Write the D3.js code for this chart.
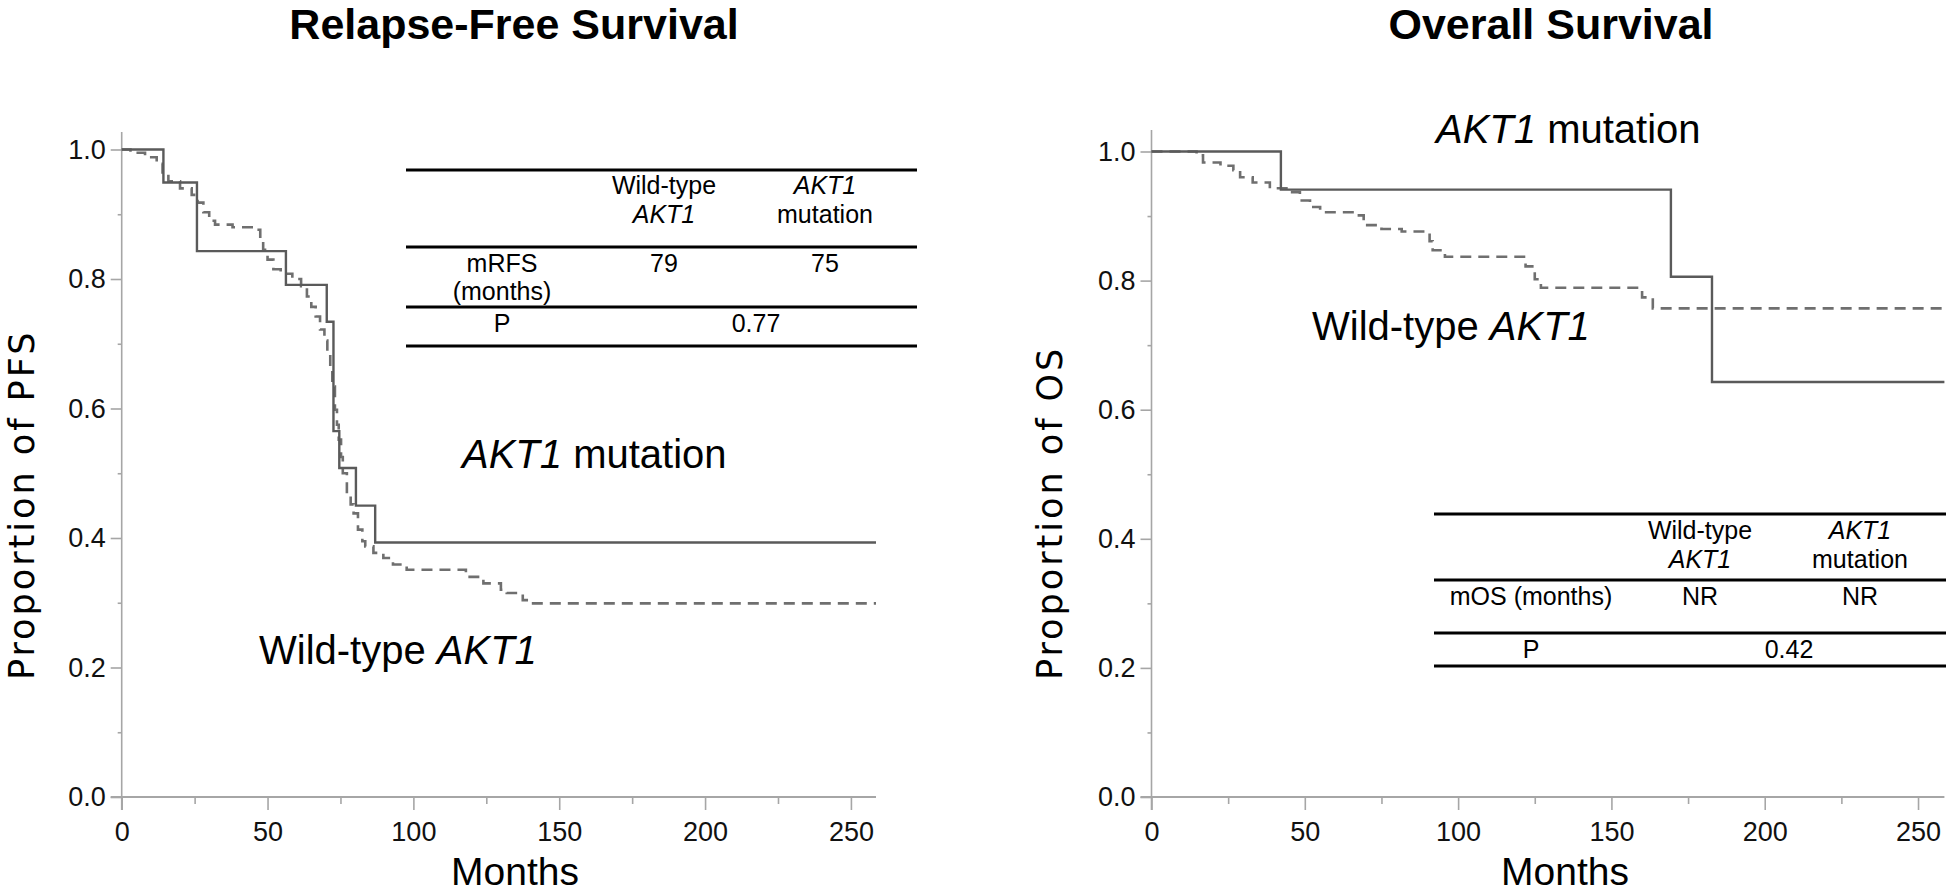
<!DOCTYPE html>
<html>
<head>
<meta charset="utf-8">
<script src="https://cdn.jsdelivr.net/npm/d3@7"></script>
<style>
  body { margin: 0; background: #fff; }
  svg { display: block; }
</style>
</head>
<body>
<svg id="chart" width="1946" height="894"></svg>
<script>
// Kaplan-Meier steps: month of each drop and survival after it
var rfsWildTime = [0, 3, 8, 12, 14, 16, 20, 24, 26, 28, 30, 32, 38, 46, 47.5, 48.5, 50, 52, 54.5, 58.5, 61.5, 63.5, 65, 66.5, 68, 69.5, 70.5, 71.5, 72.2, 73.1, 73.8, 74.4, 75.2, 75.8, 77.2, 78.5, 79.5, 81, 82.5, 83.5, 86.3, 89.7, 93, 97.7, 118, 124, 130, 132, 137.5, 140];
var rfsWildSurv = [1, 0.995, 0.988, 0.978, 0.962, 0.951, 0.94, 0.93, 0.918, 0.903, 0.89, 0.884, 0.88, 0.876, 0.861, 0.845, 0.83, 0.815, 0.808, 0.8, 0.789, 0.773, 0.757, 0.742, 0.722, 0.705, 0.686, 0.66, 0.634, 0.598, 0.575, 0.552, 0.525, 0.5, 0.469, 0.452, 0.438, 0.413, 0.395, 0.387, 0.377, 0.369, 0.359, 0.351, 0.34, 0.33, 0.32, 0.315, 0.304, 0.299];
var rfsMutTime = [0, 14.3, 25.8, 56.3, 70.3, 72.6, 74.6, 80.3, 86.9];
var rfsMutSurv = [1, 0.949, 0.843, 0.791, 0.734, 0.565, 0.508, 0.45, 0.393];

var osWildTime = [0, 14.7, 16.8, 22.5, 26.7, 28.9, 33, 38.6, 44, 48.4, 51.7, 55, 67, 69.2, 75, 81.6, 90.7, 91.7, 95.7, 122, 125, 127, 160, 163.5];
var osWildSurv = [1, 0.994, 0.983, 0.978, 0.971, 0.96, 0.952, 0.943, 0.937, 0.924, 0.914, 0.906, 0.901, 0.886, 0.88, 0.876, 0.861, 0.847, 0.837, 0.822, 0.802, 0.789, 0.774, 0.757];
var osMutTime = [0, 42.2, 169.4, 182.8];
var osMutSurv = [1, 0.941, 0.806, 0.643];

var xMax = 258.6;
var xTicks = [0, 50, 100, 150, 200, 250];
var xMinor = [25, 75, 125, 175, 225];
var yTicks = [0, 0.2, 0.4, 0.6, 0.8, 1.0];
var yMinor = [0.1, 0.3, 0.5, 0.7, 0.9];

// inset tables
var tableHead = [["Wild-type", "AKT1"], ["AKT1", "mutation"]];
var rfsMedian = ["79", "75"];
var rfsP = "0.77";
var osMedian = ["NR", "NR"];
var osP = "0.42";

var FONT = "'Liberation Sans', Arial, sans-serif";
var svg = d3.select('#chart');

// writes a string with the gene name in italics
function richText(sel, str) {
  str.split(/(AKT1)/).forEach(function(p) {
    if (!p) return;
    sel.append('tspan')
      .style('font-style', p === 'AKT1' ? 'italic' : 'normal')
      .text(p);
  });
  return sel;
}

function label(g, str, x, y, size, anchor) {
  var t = g.append('text')
    .attr('x', x).attr('y', y)
    .attr('text-anchor', anchor || 'middle')
    .style('font-family', FONT)
    .style('font-size', size + 'px')
    .attr('fill', '#000');
  return richText(t, str);
}

function drawPanel(o) {
  var x = d3.scaleLinear().domain([0, xMax]).range([o.left, o.right]),
      y = d3.scaleLinear().domain([0, 1]).range([797, o.top]),
      g = svg.append('g');

  // axes
  var xa = g.append('g').attr('transform', 'translate(0,' + y(0) + ')');
  xa.call(d3.axisBottom(x).tickValues(xTicks).tickSize(13).tickPadding(12).tickFormat(d3.format('d')));
  xa.append('g').call(d3.axisBottom(x).tickValues(xMinor).tickSize(7).tickFormat(''));
  var ya = g.append('g').attr('transform', 'translate(' + x(0) + ',0)');
  ya.call(d3.axisLeft(y).tickValues(yTicks).tickSize(11).tickPadding(5).tickFormat(d3.format('.1f')));
  ya.append('g').call(d3.axisLeft(y).tickValues(yMinor).tickSize(4).tickFormat(''));
  g.selectAll('.domain').remove();
  g.selectAll('.tick line').attr('stroke', '#a6a6a6').attr('stroke-width', 1.6);
  g.selectAll('.tick text')
    .attr('fill', '#111')
    .style('font-family', FONT)
    .style('font-size', '27px');

  g.append('line')
    .attr('x1', x(0)).attr('x2', x(0))
    .attr('y1', o.axisTop).attr('y2', y(0) + 13)
    .attr('stroke', '#a6a6a6').attr('stroke-width', 1.6);
  g.append('line')
    .attr('x1', x(0) - 11).attr('x2', o.right)
    .attr('y1', y(0)).attr('y2', y(0))
    .attr('stroke', '#a6a6a6').attr('stroke-width', 1.8);

  // survival curves
  var line = d3.line()
    .x(function(d) { return x(d[0]); })
    .y(function(d) { return y(d[1]); })
    .curve(d3.curveStepAfter);

  function pts(times, surv) {
    var p = times.map(function(t, i) { return [t, surv[i]]; });
    p.push([xMax, surv[surv.length - 1]]);
    return p;
  }

  g.append('path')
    .attr('d', line(pts(o.wild[0], o.wild[1])))
    .attr('fill', 'none')
    .attr('stroke', '#6f6f6f')
    .attr('stroke-width', 2.6)
    .attr('stroke-dasharray', '11,7');

  g.append('path')
    .attr('d', line(pts(o.mut[0], o.mut[1])))
    .attr('fill', 'none')
    .attr('stroke', '#5a5a5a')
    .attr('stroke-width', 2.4);

  // titles
  g.append('text')
    .attr('x', o.titleX).attr('y', 39)
    .attr('text-anchor', 'middle')
    .style('font-family', FONT)
    .style('font-size', '43px')
    .style('font-weight', 'bold')
    .text(o.title);

  g.append('text')
    .attr('transform', 'translate(' + o.ylabelX + ',680) rotate(-90)')
    .style('font-family', "'DejaVu Sans', sans-serif")
    .style('font-size', '35px')
    .style('letter-spacing', '3px')
    .text(o.ylabel);

  label(g, 'Months', o.monthsX, 885, 39);

  o.notes.forEach(function(n) { label(g, n.text, n.x, n.y, 40, 'start'); });

  // inset table
  var t = o.table;
  t.lines.forEach(function(ly) {
    g.append('line')
      .attr('x1', t.x1).attr('x2', t.x2)
      .attr('y1', ly).attr('y2', ly)
      .attr('stroke', '#000').attr('stroke-width', 3);
  });
  tableHead.forEach(function(h, i) {
    label(g, h[0], t.cols[i], t.head[0], 25);
    label(g, h[1], t.cols[i], t.head[1], 25);
  });
  t.rowName.forEach(function(s, i) { label(g, s, t.nameX, t.row[i], 25); });
  o.median.forEach(function(s, i) { label(g, s, t.cols[i], t.row[0], 25); });
  label(g, 'P', t.nameX, t.pRow, 25);
  label(g, o.p, t.pX, t.pRow, 25);
}

drawPanel({
  left: 121.7, right: 876, top: 149.5, axisTop: 132,
  title: 'Relapse-Free Survival', titleX: 514,
  ylabel: 'Proportion of PFS', ylabelX: 34, monthsX: 515,
  wild: [rfsWildTime, rfsWildSurv], mut: [rfsMutTime, rfsMutSurv],
  notes: [{ text: 'AKT1 mutation', x: 462, y: 468 }, { text: 'Wild-type AKT1', x: 259, y: 664 }],
  median: rfsMedian, p: rfsP,
  table: {
    x1: 406, x2: 917, lines: [170, 247, 307, 346],
    cols: [664, 825], head: [194, 223],
    nameX: 502, rowName: ['mRFS', '(months)'], row: [272, 300],
    pRow: 332, pX: 756
  }
});

drawPanel({
  left: 1151.5, right: 1944.4, top: 151.5, axisTop: 130,
  title: 'Overall Survival', titleX: 1551,
  ylabel: 'Proportion of OS', ylabelX: 1062, monthsX: 1565,
  wild: [osWildTime, osWildSurv], mut: [osMutTime, osMutSurv],
  notes: [{ text: 'AKT1 mutation', x: 1436, y: 143 }, { text: 'Wild-type AKT1', x: 1312, y: 340 }],
  median: osMedian, p: osP,
  table: {
    x1: 1434, x2: 1946, lines: [514, 580, 633, 666],
    cols: [1700, 1860], head: [539, 568],
    nameX: 1531, rowName: ['mOS (months)'], row: [605],
    pRow: 658, pX: 1789
  }
});
</script>
</body>
</html>
